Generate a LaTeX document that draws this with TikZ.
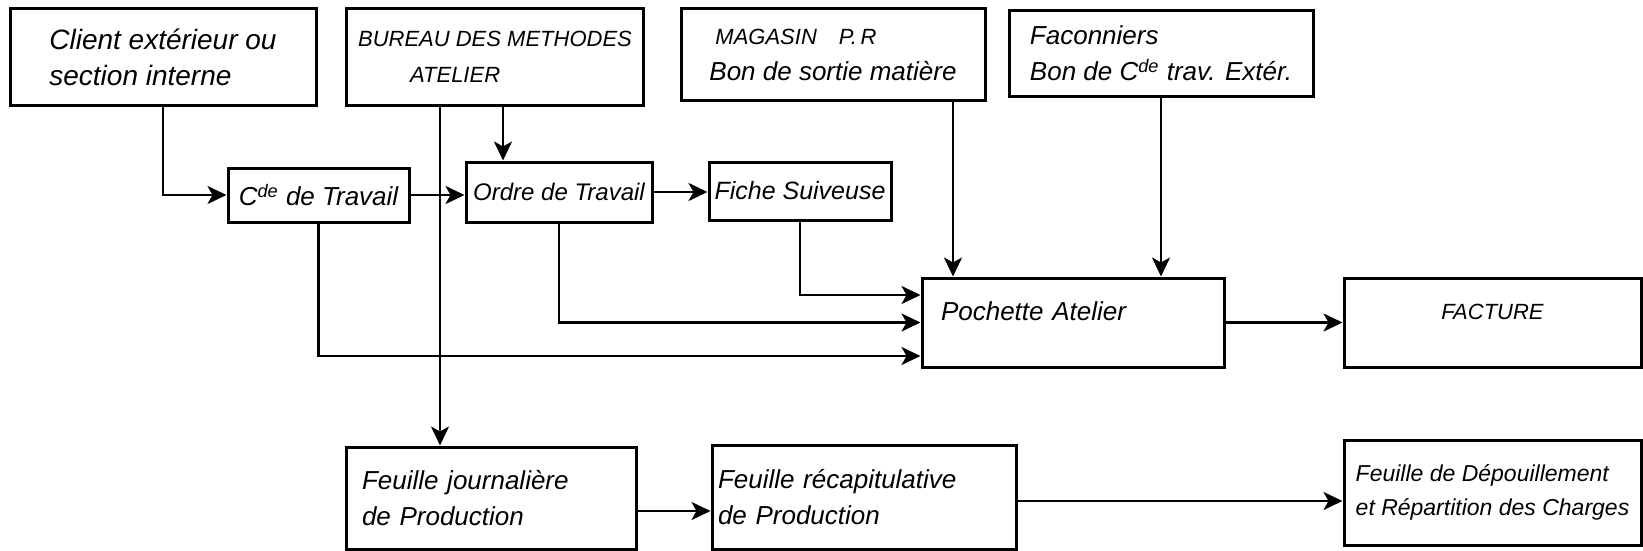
\documentclass[tikz,border=0pt]{standalone}
\usepackage{fontspec}
\setmainfont{Liberation Sans}
\usetikzlibrary{arrows.meta}

\begin{document}
\begin{tikzpicture}[x=0.5pt, y=-0.5pt, line width=1.2pt, >={Stealth[length=9.5pt,width=9pt,inset=2.5pt]},
  box/.style={draw, line width=1.5pt, align=left, inner sep=2pt, font=\itshape\fontsize{13}{18}\selectfont},
  caps/.style={font=\itshape\fontsize{11}{18}\selectfont}]
\useasboundingbox (0,0) rectangle (1643,551);

\node[box, minimum width=153pt, minimum height=48.5pt, font=\itshape\fontsize{14}{18}\selectfont] (client) at (163,57) {Client extérieur ou\\section interne};
\node[box, caps, minimum width=148.5pt, minimum height=48.5pt] (bureau) at (495,57) {BUREAU DES METHODES\\\hspace{26pt}ATELIER};
\node[box, minimum width=152pt, minimum height=46pt] (magasin) at (833,54.5) {{\fontsize{11}{18}\selectfont\hspace{3pt}MAGASIN\quad P.\,R}\\Bon de sortie matière};
\node[box, minimum width=152pt, minimum height=43pt] (facon) at (1161,53.5) {Faconniers\\Bon de C\textsuperscript{de} trav. Extér.};
\node[box, minimum width=90.5pt, minimum height=27pt] (cde) at (318.5,195) {C\textsuperscript{de} de Travail};
\node[box, minimum width=93pt, minimum height=30pt, font=\itshape\fontsize{12}{18}\selectfont] (ordre) at (559,192) {Ordre de Travail};
\node[box, minimum width=91pt, minimum height=29pt, font=\itshape\fontsize{12.5}{18}\selectfont] (fiche) at (800,191) {Fiche Suiveuse};
\node[box, minimum width=151pt, minimum height=44.5pt, text width=132pt, text depth=11pt] (pochette) at (1073,322.5) {Pochette Atelier};
\node[box, caps, minimum width=148.5pt, minimum height=44.5pt, text depth=11pt] (facture) at (1492.5,322.5) {FACTURE};
\node[box, minimum width=145pt, minimum height=51pt, text width=129pt] (fj) at (491,498) {Feuille journalière\\de Production};
\node[box, minimum width=152pt, minimum height=52pt, text width=146pt] (fr) at (864,497) {Feuille récapitulative\\de Production};
\node[box, minimum width=148.5pt, minimum height=52.5pt, inner xsep=1pt, font=\itshape\fontsize{11.5}{17}\selectfont] (fd) at (1492.5,492.5) {Feuille de Dépouillement\\et Répartition des Charges};

\draw[->] (client) |- (cde);
\draw[->] (cde.east) -- (cde.east -| ordre.west);
\draw[->] (ordre.east) -- (ordre.east -| fiche.west);
\draw[->] ([xshift=-27.5pt]bureau.south) -- ([xshift=-27.5pt]bureau.south |- fj.north);
\draw[->] ([xshift=4pt]bureau.south) -- ([xshift=4pt]bureau.south |- ordre.north);
\draw[->] ([xshift=60pt]magasin.south) -- ([xshift=60pt]magasin.south |- pochette.north);
\draw[->] (facon.south) -- (facon.south |- pochette.north);
\draw[->] (fiche.south) |- ([yshift=13.75pt]pochette.west);
\draw[->] (ordre.south) |- (pochette.west);
\draw[->] (cde.south) |- ([yshift=-16.75pt]pochette.west);
\draw[->] (pochette) -- (facture);
\draw[->] ([yshift=-6.5pt]fj.east) -- ([yshift=-6.5pt]fj.east -| fr.west);
\draw[->] ([yshift=-2pt]fr.east) -- ([yshift=-2pt]fr.east -| fd.west);
\end{tikzpicture}
\end{document}
